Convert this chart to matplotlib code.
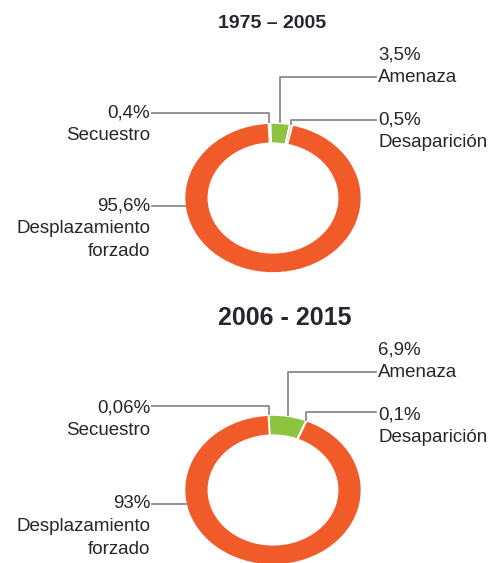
import matplotlib.pyplot as plt
import numpy as np

plt.rcParams["font.family"] = ["Liberation Sans Narrow", "Liberation Sans", "DejaVu Sans"]

W, H = 495, 563

CATEGORIES = ["Secuestro", "Amenaza", "Desaparición", "Desplazamiento\nforzado"]
PERIODS = ["1975 – 2005", "2006 - 2015"]
SHARES_1975 = [0.4, 3.5, 0.5, 95.6]
SHARES_2006 = [0.06, 6.9, 0.1, 93.0]
LABELS_1975 = ["0,4%", "3,5%", "0,5%", "95,6%"]
LABELS_2006 = ["0,06%", "6,9%", "0,1%", "93%"]

COLORS = ["#E6EEE6", "#8CC43F", "#F8B47C", "#F15A29"]
TEXT = "#26262e"
LINE = "#8a8a8a"

# layout in pixels (origin top-left)
CHARTS = [
    dict(shares=SHARES_1975, labels=LABELS_1975, title=PERIODS[0],
         title_xy=(272, 24), title_size=14, cx=273, cy=198,
         # (text x, first line y, connector y) per category
         pos=[(150, 113, 113), (378, 55, 77), (378, 120, 120), (150, 206, 206)]),
    dict(shares=SHARES_2006, labels=LABELS_2006, title=PERIODS[1],
         title_xy=(285, 318), title_size=18, cx=273, cy=490,
         pos=[(150, 408, 406), (378, 350, 372), (378, 415, 412), (150, 504, 504)]),
]
RX, RY = 88.5, 75
LINE_GAP = 22.5
FS = 13.5

fig = plt.figure(figsize=(W / 100, H / 100), dpi=100)
overlay = fig.add_axes([0, 0, 1, 1], zorder=2)
overlay.set_xlim(0, W)
overlay.set_ylim(H, 0)
overlay.axis("off")

for chart in CHARTS:
    cx, cy = chart["cx"], chart["cy"]
    ax = fig.add_axes([(cx - RX) / W, (H - cy - RY) / H, 2 * RX / W, 2 * RY / H], zorder=1)
    wedges, _ = ax.pie(
        chart["shares"], colors=COLORS, startangle=93, counterclock=False,
        radius=1, wedgeprops=dict(width=0.27, edgecolor="white", linewidth=1.2),
    )
    ax.set_xlim(-1, 1)
    ax.set_ylim(-1, 1)
    ax.set_aspect("auto")
    ax.axis("off")

    overlay.text(*chart["title_xy"], chart["title"], ha="center", va="center",
                 fontsize=chart["title_size"], fontweight="bold", color=TEXT)

    to_overlay = overlay.transData.inverted()
    for i, (wedge, name, pct) in enumerate(zip(wedges, CATEGORIES, chart["labels"])):
        tx, ty, ly = chart["pos"][i]
        ha = "right" if tx < cx else "left"
        overlay.text(tx, ty, pct, ha=ha, va="center", fontsize=FS, color=TEXT)
        for k, line in enumerate(name.split("\n")):
            overlay.text(tx, ty + (k + 1) * LINE_GAP, line, ha=ha, va="center",
                         fontsize=FS, color=TEXT)

        x0 = tx + (2 if ha == "right" else -2)
        if i == 3:
            # horizontal leader to the outer rim at the label height
            dy = (ly - cy) / RY
            rim_x = cx - RX * (1 - dy ** 2) ** 0.5
            overlay.plot([x0, rim_x], [ly, ly], color=LINE, lw=1.3)
            continue
        mid = np.deg2rad((wedge.theta1 + wedge.theta2) / 2)
        px, py = to_overlay.transform(
            ax.transData.transform((np.cos(mid), np.sin(mid))))
        overlay.plot([x0, px, px], [ly, ly, py - 1], color=LINE, lw=1.3)

fig.savefig("out.png", dpi=100, facecolor="white")
